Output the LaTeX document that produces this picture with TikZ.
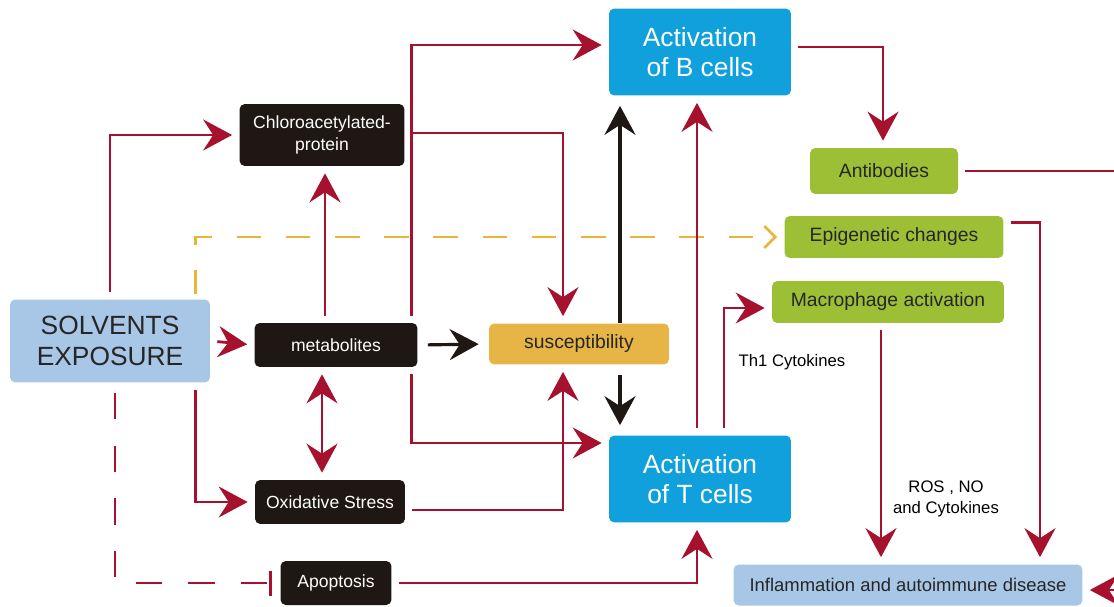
\documentclass[tikz,border=0pt]{standalone}
\usepackage{fontspec}
\setmainfont{Liberation Sans}
\usepackage{xcolor}
\definecolor{crimson}{RGB}{166,18,46}
\definecolor{cellblue}{RGB}{16,160,220}
\definecolor{paleblue}{RGB}{168,198,230}
\definecolor{boxblack}{RGB}{30,23,20}
\definecolor{suscol}{RGB}{230,181,70}
\definecolor{leaf}{RGB}{157,191,53}
\definecolor{dashyellow}{RGB}{232,180,58}
\usepackage{tikz}
\usetikzlibrary{arrows.meta,calc}
\tikzstyle{box} = [rounded corners=3pt, inner sep=0pt, align=center]
\tikzstyle{darkbox} = [box, fill=boxblack, text=white, font=\fontsize{10}{12.5}\selectfont]
\tikzstyle{cellbox} = [box, fill=cellblue, text=white, minimum width=3.64cm, minimum height=1.74cm, font=\fontsize{15}{17.5}\selectfont]
\tikzstyle{greenbox} = [box, fill=leaf, text=black!85, minimum height=0.86cm, font=\fontsize{11}{13}\selectfont]
\tikzstyle{arrow} = [-{Stealth[length=5.8mm,width=6.2mm,inset=2mm]}, line width=1.6pt, color=crimson, shorten <=1.4mm, shorten >=1.4mm]
\tikzstyle{blackarrow} = [arrow, color=boxblack, line width=1.8pt, shorten <=2mm, shorten >=2mm]
\tikzstyle{lbl} = [font=\fontsize{9.5}{11.5}\selectfont, align=center]

\begin{document}
\begin{tikzpicture}[x=0.02cm, y=-0.02cm]
    \useasboundingbox (0,0) rectangle (1114,607);
    \clip (0,0) rectangle (1114,607);

    \node (solv) at (110, 341) [box, fill=paleblue, text=black!85, minimum width=4cm, minimum height=1.66cm, font=\fontsize{15}{17.5}\selectfont] {SOLVENTS\\EXPOSURE};
    \node (chloro) at (322, 135) [darkbox, minimum width=3.3cm, minimum height=1.24cm] {Chloroacetylated-\\protein};
    \node (metab) at (336, 345) [darkbox, minimum width=3.26cm, minimum height=0.88cm] {metabolites};
    \node (oxid) at (330, 502) [darkbox, minimum width=3cm, minimum height=0.88cm] {Oxidative Stress};
    \node (apop) at (336, 583) [darkbox, minimum width=2.22cm, minimum height=0.88cm] {Apoptosis};
    \node (susc) at (579, 344) [box, fill=suscol, text=black!85, minimum width=3.6cm, minimum height=0.82cm, font=\fontsize{11}{13}\selectfont] {susceptibility};

    \node (bcell) at (700, 52) [cellbox] {Activation\\of B cells};
    \node (tcell) at (700, 479) [cellbox] {Activation\\of T cells};

    \node (antib) at (884, 171) [greenbox, minimum width=2.96cm, minimum height=0.92cm] {Antibodies};
    \node (epig) at (894, 237) [greenbox, minimum width=4.38cm, minimum height=0.84cm] {Epigenetic changes};
    \node (macro) at (888, 302) [greenbox, minimum width=4.64cm, minimum height=0.84cm] {Macrophage activation};
    \node (inflam) at (908, 585) [box, fill=paleblue, text=black!85, minimum width=6.98cm, minimum height=0.82cm, font=\fontsize{10.5}{12.5}\selectfont] {Inflammation and autoimmune disease};

    \node (th1) at (792, 362) [lbl] {Th1 Cytokines};
    \node (ros) at (946, 499) [lbl] {ROS , NO\\and Cytokines};

    \coordinate (offright) at (1140, 171);

    % solvents exposure
    \draw[arrow] (solv.north) |- (chloro.west);
    \draw[arrow] (solv.east) -- (metab.west);
    \draw[arrow] ($(solv.south east)+(-15,0)$) |- (oxid.west);
    \draw[crimson, line width=1.6pt, dash pattern=on 15pt off 15pt, -{Bar[width=5mm]}, shorten <=2mm, shorten >=1.6mm] ($(solv.south)+(5,0)$) |- (apop.west);
    \draw[dashyellow, line width=1.5pt, dash pattern=on 14pt off 14pt, -{Straight Barb[length=2.2mm,width=4.4mm]}, shorten <=1mm, shorten >=1.4mm] ($(solv.north east)+(-15,0)$) |- (epig.west);

    % metabolites and stress
    \draw[arrow] ($(metab.north)+(-11,0)$) -- ($(chloro.south)+(3,0)$);
    \draw[arrow, {Stealth[length=5.8mm,width=6.2mm,inset=2mm]}-{Stealth[length=5.8mm,width=6.2mm,inset=2mm]}] ($(metab.south)+(-14,0)$) -- ($(oxid.north)+(-8,0)$);
    \draw[blackarrow] (metab.east) -- (susc.west);
    \draw[arrow] ($(metab.north east)+(-6,0)$) |- ($(bcell.west)+(0,-7)$);
    \draw[arrow] ($(metab.south east)+(-6,0)$) |- ($(tcell.west)+(0,-36)$);
    \draw[arrow] ($(chloro.east)+(0,-2)$) -| ($(susc.north)+(-16,0)$);
    \draw[arrow] ($(oxid.east)+(0,8)$) -| ($(susc.south)+(-16,0)$);
    \draw[arrow] (apop.east) -| ($(tcell.south)+(-3,0)$);

    % susceptibility
    \draw[blackarrow, shorten <=0pt] ($(susc.north)+(41,0)$) -- ($(bcell.south)+(-80,0)$);
    \draw[blackarrow] ($(susc.south)+(41,0)$) -- ($(tcell.north)+(-80,0)$);

    % T and B cells
    \draw[arrow] ($(tcell.north)+(-3,0)$) -- ($(bcell.south)+(-3,0)$);
    \draw[arrow] ($(tcell.north)+(24,0)$) |- ($(macro.west)+(0,6)$);
    \draw[arrow] ($(bcell.east)+(0,-5)$) -| ($(antib.north)+(-1,0)$);

    % inflammation
    \draw[arrow] (antib.east) -- (offright) |- ($(inflam.east)+(0,5)$);
    \draw[arrow] ($(epig.north east)+(0,7)$) -| ($(inflam.north)+(132,0)$);
    \draw[arrow] ($(macro.south)+(-7,0)$) -- ($(inflam.north)+(-27,0)$);

\end{tikzpicture}
\end{document}
